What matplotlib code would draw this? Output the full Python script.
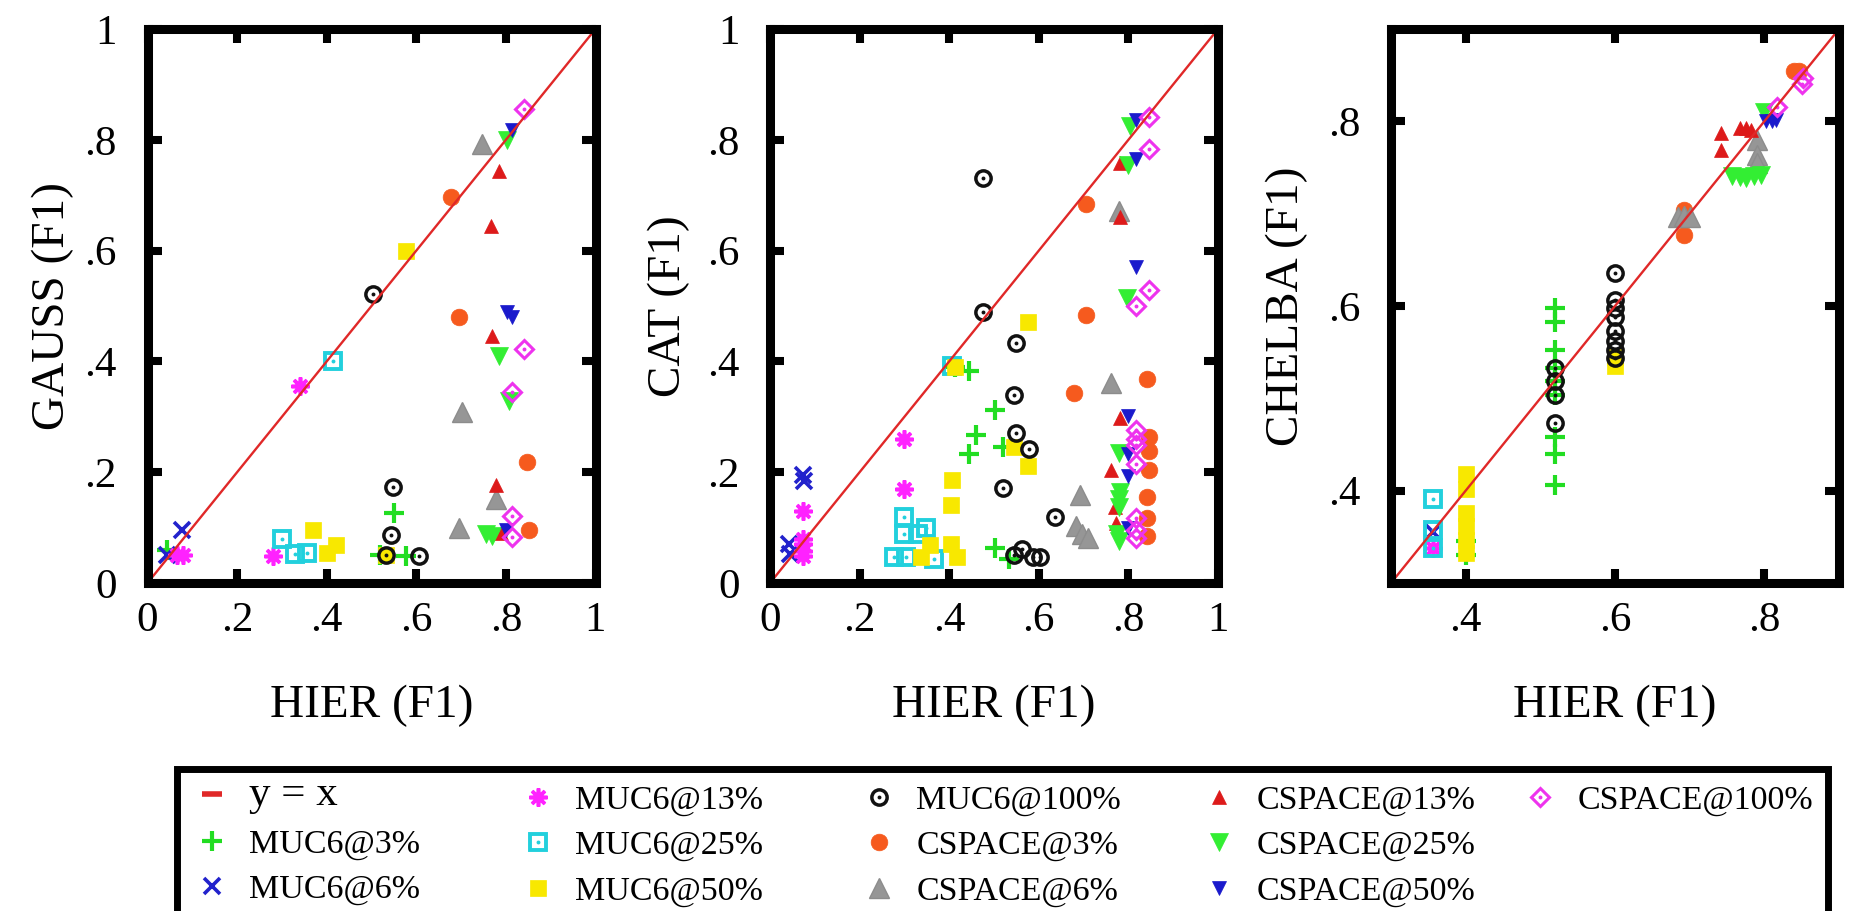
import matplotlib
matplotlib.use("Agg")
import matplotlib.pyplot as plt
from matplotlib.lines import Line2D
from matplotlib.patches import Rectangle
from matplotlib.legend_handler import HandlerTuple

plt.rcParams['font.family'] = ['Liberation Serif', 'DejaVu Serif']

# ---------------- data ----------------
SERIES = ['MUC6@3%', 'MUC6@6%', 'MUC6@13%', 'MUC6@25%', 'MUC6@50%', 'MUC6@100%',
          'CSPACE@3%', 'CSPACE@6%', 'CSPACE@13%', 'CSPACE@25%', 'CSPACE@50%', 'CSPACE@100%']

# GAUSS vs HIER
gauss_muc6_3 = ([0.043, 0.55, 0.578, 0.518], [0.06, 0.127, 0.048, 0.05])
gauss_muc6_6 = ([0.076, 0.044], [0.096, 0.051])
gauss_muc6_13 = ([0.066, 0.08, 0.34, 0.28], [0.05, 0.05, 0.356, 0.048])
gauss_muc6_25 = ([0.413, 0.30, 0.329, 0.355], [0.401, 0.079, 0.052, 0.054])
gauss_muc6_50 = ([0.577, 0.369, 0.421, 0.40, 0.533], [0.599, 0.096, 0.069, 0.054, 0.05])
gauss_muc6_100 = ([0.503, 0.547, 0.544, 0.533, 0.607], [0.522, 0.173, 0.086, 0.05, 0.048])
gauss_cs_3 = ([0.678, 0.696, 0.847, 0.851], [0.696, 0.481, 0.218, 0.096])
gauss_cs_6 = ([0.747, 0.702, 0.696, 0.778], [0.792, 0.308, 0.10, 0.152])
gauss_cs_13 = ([0.784, 0.767, 0.769, 0.778, 0.79], [0.744, 0.644, 0.446, 0.176, 0.09])
gauss_cs_25 = ([0.803, 0.784, 0.807, 0.755, 0.77], [0.80, 0.41, 0.328, 0.088, 0.084])
gauss_cs_50 = ([0.814, 0.802, 0.814, 0.80], [0.817, 0.49, 0.48, 0.096])
gauss_cs_100 = ([0.84, 0.84, 0.814, 0.814, 0.814], [0.855, 0.422, 0.345, 0.121, 0.083])

# CAT vs HIER
cat_muc6_3 = ([0.445, 0.502, 0.460, 0.445, 0.521, 0.502, 0.533, 0.414],
              [0.382, 0.312, 0.267, 0.232, 0.246, 0.064, 0.043, 0.389])
cat_muc6_6 = ([0.073, 0.075, 0.042, 0.045], [0.195, 0.185, 0.07, 0.053])
cat_muc6_13 = ([0.073, 0.073, 0.073, 0.073, 0.073, 0.30, 0.30],
               [0.13, 0.08, 0.07, 0.058, 0.048, 0.26, 0.17])
cat_muc6_25 = ([0.30, 0.30, 0.349, 0.33, 0.277, 0.304, 0.365, 0.407],
               [0.12, 0.089, 0.099, 0.089, 0.047, 0.047, 0.043, 0.392])
cat_muc6_50 = ([0.414, 0.575, 0.544, 0.575, 0.407, 0.403, 0.357, 0.403, 0.338, 0.418],
               [0.389, 0.472, 0.246, 0.211, 0.186, 0.141, 0.068, 0.071, 0.047, 0.047])
cat_muc6_100 = ([0.476, 0.476, 0.548, 0.544, 0.548, 0.579, 0.521, 0.636, 0.563, 0.544, 0.586, 0.602],
                [0.731, 0.49, 0.434, 0.34, 0.27, 0.242, 0.172, 0.12, 0.061, 0.05, 0.047, 0.047])
cat_cs_3 = ([0.705, 0.705, 0.678, 0.842, 0.846, 0.846, 0.846, 0.842, 0.842, 0.842],
            [0.685, 0.483, 0.343, 0.368, 0.263, 0.239, 0.204, 0.155, 0.117, 0.085])
cat_cs_6 = ([0.778, 0.762, 0.693, 0.682, 0.697, 0.709], [0.671, 0.361, 0.158, 0.103, 0.089, 0.082])
cat_cs_13 = ([0.781, 0.781, 0.781, 0.762, 0.77, 0.772], [0.661, 0.759, 0.298, 0.204, 0.137, 0.108])
cat_cs_25 = ([0.804, 0.80, 0.797, 0.778, 0.781, 0.778, 0.778, 0.774, 0.778],
             [0.825, 0.755, 0.514, 0.235, 0.165, 0.151, 0.137, 0.089, 0.075])
cat_cs_50 = ([0.816, 0.816, 0.816, 0.80, 0.80, 0.80, 0.80],
             [0.835, 0.766, 0.57, 0.301, 0.232, 0.193, 0.10])
cat_cs_100 = ([0.846, 0.846, 0.846, 0.816, 0.816, 0.816, 0.816, 0.816, 0.816, 0.816, 0.816],
              [0.842, 0.783, 0.528, 0.5, 0.277, 0.26, 0.249, 0.214, 0.117, 0.096, 0.082])

# CHELBA vs HIER
chelba_muc6_3 = ([0.52, 0.52, 0.52, 0.52, 0.52, 0.52, 0.52, 0.52, 0.52, 0.4, 0.4],
                 [0.598, 0.583, 0.552, 0.533, 0.519, 0.504, 0.458, 0.44, 0.406, 0.345, 0.33])
chelba_muc6_6 = ([0.356], [0.355])
chelba_muc6_13 = ([0.356], [0.338])
chelba_muc6_25 = ([0.356, 0.356, 0.356], [0.391, 0.357, 0.338])
chelba_muc6_50 = ([0.4, 0.4, 0.4, 0.4, 0.4, 0.4, 0.6, 0.6],
                  [0.418, 0.402, 0.376, 0.362, 0.347, 0.333, 0.535, 0.545])
chelba_muc6_100 = ([0.52, 0.52, 0.52, 0.52, 0.6, 0.6, 0.6, 0.6, 0.6, 0.6, 0.6, 0.6],
                   [0.533, 0.519, 0.504, 0.473, 0.636, 0.606, 0.598, 0.588, 0.573, 0.562, 0.552, 0.544])
chelba_cs_3 = ([0.693, 0.693, 0.84, 0.846], [0.704, 0.677, 0.854, 0.855])
chelba_cs_6 = ([0.685, 0.693, 0.70, 0.79, 0.79, 0.79], [0.696, 0.697, 0.696, 0.78, 0.763, 0.755])
chelba_cs_13 = ([0.742, 0.742, 0.767, 0.776, 0.782], [0.787, 0.769, 0.793, 0.793, 0.791])
chelba_cs_25 = ([0.757, 0.767, 0.776, 0.786, 0.795, 0.80], [0.741, 0.74, 0.739, 0.741, 0.742, 0.81])
chelba_cs_50 = ([0.802, 0.81, 0.816], [0.80, 0.80, 0.801])
chelba_cs_100 = ([0.817, 0.852, 0.851], [0.816, 0.847, 0.84])

GAUSS = [gauss_muc6_3, gauss_muc6_6, gauss_muc6_13, gauss_muc6_25, gauss_muc6_50, gauss_muc6_100,
         gauss_cs_3, gauss_cs_6, gauss_cs_13, gauss_cs_25, gauss_cs_50, gauss_cs_100]
CAT = [cat_muc6_3, cat_muc6_6, cat_muc6_13, cat_muc6_25, cat_muc6_50, cat_muc6_100,
       cat_cs_3, cat_cs_6, cat_cs_13, cat_cs_25, cat_cs_50, cat_cs_100]
CHELBA = [chelba_muc6_3, chelba_muc6_6, chelba_muc6_13, chelba_muc6_25, chelba_muc6_50, chelba_muc6_100,
          chelba_cs_3, chelba_cs_6, chelba_cs_13, chelba_cs_25, chelba_cs_50, chelba_cs_100]

YLABELS = ['GAUSS (F1)', 'CAT (F1)', 'CHELBA (F1)']
XLABEL = 'HIER (F1)'
TICKS_FULL = [0, 0.2, 0.4, 0.6, 0.8, 1.0]
TICKLABELS_FULL = ['0', '.2', '.4', '.6', '.8', '1']
TICKS_ZOOM = [0.4, 0.6, 0.8]
TICKLABELS_ZOOM = ['.4', '.6', '.8']

# ---------------- styles ----------------
STYLE = {
    'MUC6@3%':    dict(marker='+', color='#22dd22', ms=14, mew=3.0, mfc='#22dd22', dot=False),
    'MUC6@6%':    dict(marker='x', color='#2222cc', ms=11, mew=2.6, mfc='#2222cc', dot=False),
    'MUC6@13%':   dict(marker=(8, 2, 0), color='#ff22ff', ms=13, mew=2.6, mfc='#ff22ff', dot=False),
    'MUC6@25%':   dict(marker='s', color='#22d0dd', ms=11, mew=2.8, mfc='none', dot=True),
    'MUC6@50%':   dict(marker='s', color='#f8e800', ms=12, mew=0.5, mfc='#f8e800', dot=False),
    'MUC6@100%':  dict(marker='o', color='#111111', ms=11, mew=2.5, mfc='none', dot=True),
    'CSPACE@3%':  dict(marker='o', color='#f65a1e', ms=12, mew=0.5, mfc='#f65a1e', dot=False),
    'CSPACE@6%':  dict(marker='^', color='#8c8c8c', ms=14, mew=1.0, mfc='#969696', dot=False),
    'CSPACE@13%': dict(marker='^', color='#dd1a1a', ms=10, mew=0.5, mfc='#dd1a1a', dot=False),
    'CSPACE@25%': dict(marker='v', color='#33ee33', ms=13, mew=0.5, mfc='#33ee33', dot=False),
    'CSPACE@50%': dict(marker='v', color='#1a1acc', ms=10, mew=0.5, mfc='#1a1acc', dot=False),
    'CSPACE@100%': dict(marker='D', color='#ee33ee', ms=9, mew=2.2, mfc='none', dot=True),
}
LINE_COLOR = '#e02828'

W, H = 1851, 911
fig = plt.figure(figsize=(W / 100, H / 100), dpi=100)

ax_left_px = [147.5, 770.0, 1391.0]
ax_w_px, ax_top_px, ax_bot_px = 448.0, 29.0, 583.0
ylabel_x = [-0.211, -0.226, -0.232]

handles = {}
for i, (ylab, data) in enumerate(zip(YLABELS, [GAUSS, CAT, CHELBA])):
    ax = fig.add_axes([ax_left_px[i] / W, 1 - ax_bot_px / H, ax_w_px / W,
                       (ax_bot_px - ax_top_px) / H])
    if i < 2:
        lim, ticks, tlabels = (0, 1), TICKS_FULL, TICKLABELS_FULL
    else:
        lim, ticks, tlabels = (0.3, 0.9), TICKS_ZOOM, TICKLABELS_ZOOM
    for name, (xs, ys) in zip(SERIES, data):
        st = STYLE[name]
        ln, = ax.plot(xs, ys, linestyle='none', marker=st['marker'], markersize=st['ms'],
                      markeredgewidth=st['mew'], color=st['color'],
                      markerfacecolor=st['mfc'], markeredgecolor=st['color'], zorder=2)
        h = ln
        if st['dot']:
            dl, = ax.plot(xs, ys, linestyle='none', marker='o', markersize=2.8,
                          color=st['color'], markeredgewidth=0, zorder=2)
            h = (ln, dl)
        if i == 0:
            handles[name] = h
    ax.plot(lim, lim, color=LINE_COLOR, linewidth=1.7, zorder=3)
    ax.set_xlim(lim)
    ax.set_ylim(lim)
    ax.set_xticks(ticks)
    ax.set_xticklabels(tlabels)
    ax.set_yticks(ticks)
    ax.set_yticklabels(tlabels)
    for sp in ax.spines.values():
        sp.set_linewidth(6.5)
        sp.set_zorder(5)
    ax.tick_params(axis='both', which='both', direction='in', length=10, width=5.8,
                   top=True, right=True, labelsize=31, color='black')
    ax.tick_params(axis='y', pad=22)
    ax.tick_params(axis='x', pad=13)
    ax.set_xlabel(XLABEL, fontsize=34, va='center')
    ax.xaxis.set_label_coords(0.5, -0.222)
    ax.set_ylabel(ylab, fontsize=34, va='center')
    ax.yaxis.set_label_coords(ylabel_x[i], 0.5)

# ---------------- legend ----------------
line_proxy = Line2D([], [], linestyle='none', marker='_', markersize=15,
                    markeredgewidth=4, color=LINE_COLOR)
columns = [[('y = x', line_proxy), ('MUC6@3%', None), ('MUC6@6%', None)],
           [('MUC6@13%', None), ('MUC6@25%', None), ('MUC6@50%', None)],
           [('MUC6@100%', None), ('CSPACE@3%', None), ('CSPACE@6%', None)],
           [('CSPACE@13%', None), ('CSPACE@25%', None), ('CSPACE@50%', None)],
           [('CSPACE@100%', None)]]
col_left_px = [195, 521, 862, 1202, 1523]
leg_top_px = 785.0
for c, entries in enumerate(columns):
    hs = [h if h is not None else handles[lab] for lab, h in entries]
    labs = [lab for lab, _ in entries]
    top = leg_top_px - (9 if c == 0 else 0)
    leg = fig.legend(hs, labs, loc='upper left',
                     bbox_to_anchor=(col_left_px[c] / W, 1 - top / H),
                     bbox_transform=fig.transFigure, frameon=False, fontsize=24.5,
                     handlelength=1.0, handletextpad=0.6, labelspacing=0.42,
                     borderpad=0, borderaxespad=0,
                     handler_map={tuple: HandlerTuple(ndivide=1, pad=0)})
    if c == 0:
        leg.get_texts()[0].set_fontsize(31)

frame = Rectangle((177 / W, 1 - 913 / H), (1828 - 177) / W, (913 - 768.5) / H,
                  transform=fig.transFigure, fill=False, edgecolor='black',
                  linewidth=5, clip_on=False)
fig.add_artist(frame)

fig.savefig('out.png', dpi=100)
